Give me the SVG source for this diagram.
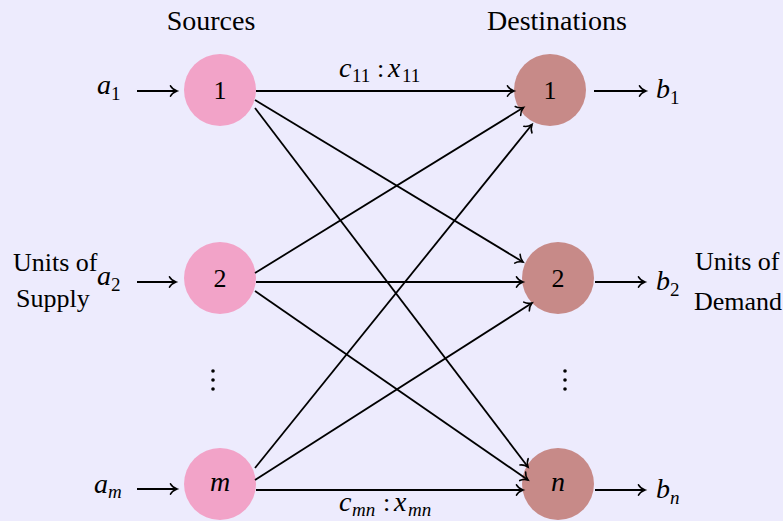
<svg xmlns="http://www.w3.org/2000/svg" width="783" height="521" viewBox="0 0 783 521">
<defs>
<marker id="ar" markerUnits="userSpaceOnUse" markerWidth="14" markerHeight="14" viewBox="-8 -7 10 14" refX="0" refY="0" orient="auto" overflow="visible">
<path d="M-6.5,-5.2 C-4.8,-2.1 -1.6,-0.6 0,0 C-1.6,0.6 -4.8,2.1 -6.5,5.2" fill="none" stroke="#000" stroke-width="1.6" stroke-linecap="round"/>
</marker>
<style>
.t{font-family:"Liberation Serif","Times New Roman",serif;font-size:26px;fill:#000}
.h{font-size:28px}
.i{font-style:italic;font-size:28px}
.s{font-size:19px}
.src{fill:#F2A3C8}
.dst{fill:#C78A88}
.e{stroke:#000;stroke-width:1.8;fill:none;marker-end:url(#ar)}
</style>
</defs>
<rect width="783" height="521" fill="#EDEBFD"/>

<g id="headers">
<text class="t h" x="211" y="30" text-anchor="middle">Sources</text>
<text class="t h" x="557" y="30" text-anchor="middle">Destinations</text>
</g>

<g id="src1"><circle class="src" cx="220" cy="90" r="36"/><text class="t" x="220" y="99" text-anchor="middle">1</text></g>
<g id="src2"><circle class="src" cx="220" cy="278" r="36"/><text class="t" x="220" y="287" text-anchor="middle">2</text></g>
<g id="srcm"><circle class="src" cx="220" cy="484" r="36"/><text class="t i" x="220" y="491" text-anchor="middle">m</text></g>

<g id="dst1"><circle class="dst" cx="550" cy="90" r="36"/><text class="t" x="550" y="99" text-anchor="middle">1</text></g>
<g id="dst2"><circle class="dst" cx="558" cy="278" r="36"/><text class="t" x="558" y="287" text-anchor="middle">2</text></g>
<g id="dstn"><circle class="dst" cx="558" cy="484" r="36"/><text class="t i" x="558" y="491" text-anchor="middle">n</text></g>

<g id="supply">
<text class="t i" x="97" y="94">a</text><text class="t s" x="111" y="100">1</text>
<text class="t i" x="97" y="285">a</text><text class="t s" x="111" y="291">2</text>
<text class="t i" x="94" y="493">a</text><text class="t s i" x="108" y="498" style="font-size:19px">m</text>
<text class="t" x="13" y="271">Units of</text>
<text class="t" x="16" y="307">Supply</text>
</g>

<g id="demand">
<text class="t i" x="656" y="98">b</text><text class="t s" x="670" y="104">1</text>
<text class="t i" x="656" y="290">b</text><text class="t s" x="670" y="296">2</text>
<text class="t i" x="656" y="498">b</text><text class="t s i" x="670" y="504" style="font-size:19px">n</text>
<text class="t" x="695" y="270">Units of</text>
<text class="t" x="694" y="310">Demand</text>
</g>

<g id="dots">
<circle cx="213" cy="371" r="1.8"/><circle cx="213" cy="380" r="1.8"/><circle cx="213" cy="389" r="1.8"/>
<circle cx="565" cy="371" r="1.8"/><circle cx="565" cy="380" r="1.8"/><circle cx="565" cy="389" r="1.8"/>
</g>

<g id="connectors">
<line class="e" x1="137" y1="91" x2="177" y2="91"/>
<line class="e" x1="137" y1="282" x2="176" y2="282"/>
<line class="e" x1="137" y1="489" x2="177" y2="489"/>

<line class="e" x1="256" y1="91" x2="514" y2="91"/>
<line class="e" x1="256" y1="282" x2="523" y2="282"/>
<line class="e" x1="256" y1="490" x2="523" y2="490"/>

<line class="e" x1="255" y1="100" x2="523" y2="262"/>
<line class="e" x1="255" y1="108" x2="528" y2="467"/>
<line class="e" x1="255" y1="273" x2="523.5" y2="107.5"/>
<line class="e" x1="255" y1="291" x2="528" y2="480"/>
<line class="e" x1="255" y1="468" x2="532" y2="124.5"/>
<line class="e" x1="255" y1="480" x2="532" y2="303"/>

<line class="e" x1="594" y1="91" x2="646" y2="91"/>
<line class="e" x1="595" y1="282" x2="645" y2="282"/>
<line class="e" x1="595" y1="490" x2="645" y2="490"/>
</g>

<g id="edge-labels">
<text class="t i" x="339" y="77">c</text><text class="t s" x="352" y="82">11</text>
<text class="t" x="377" y="77">:</text>
<text class="t i" x="388" y="77">x</text><text class="t s" x="402" y="82">11</text>
<text class="t i" x="339" y="511">c</text><text class="t s i" x="352" y="516" style="font-size:19px">mn</text>
<text class="t" x="383" y="511">:</text>
<text class="t i" x="394" y="511">x</text><text class="t s i" x="408" y="516" style="font-size:19px">mn</text>
</g>
</svg>
